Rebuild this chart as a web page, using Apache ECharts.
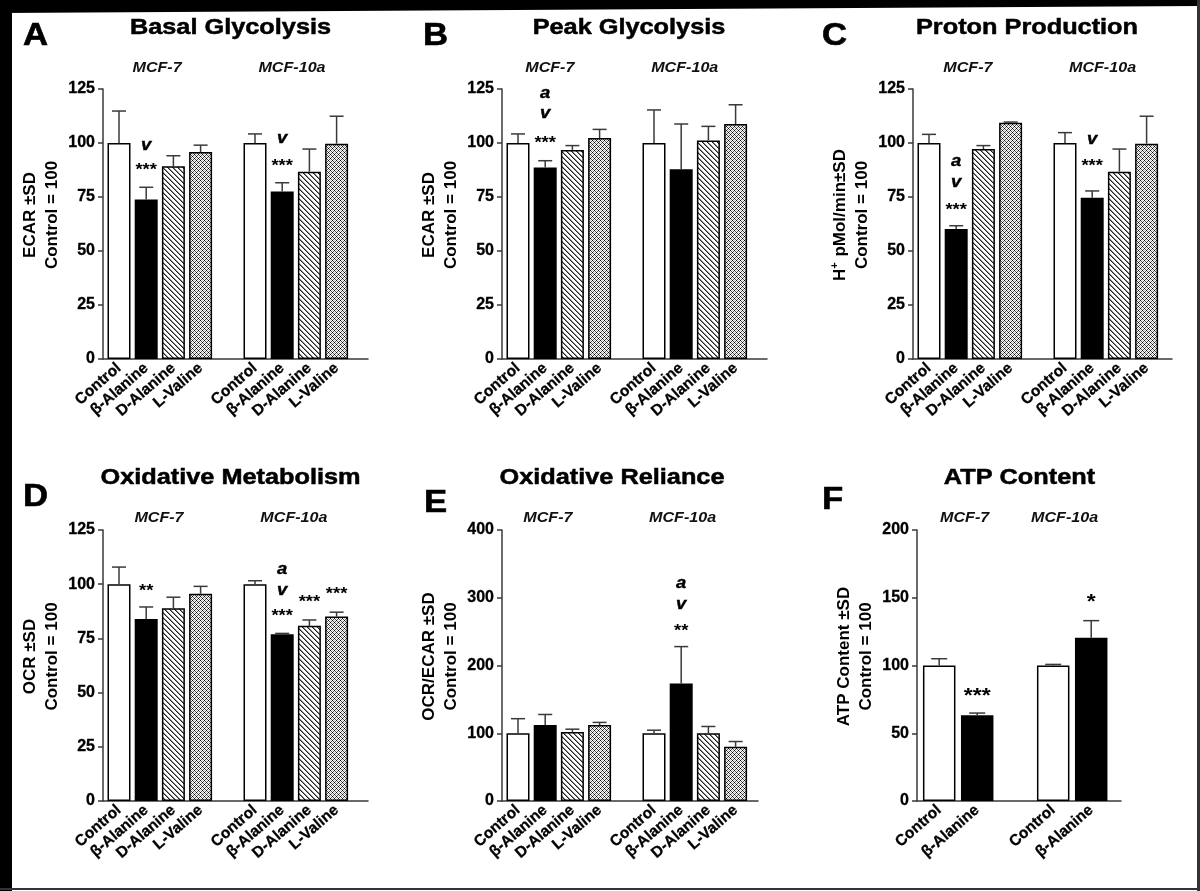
<!DOCTYPE html>
<html><head><meta charset="utf-8">
<script src="https://cdn.jsdelivr.net/npm/echarts@6/dist/echarts.min.js"></script>
<style>html,body{margin:0;padding:0;background:#fff}#chart{width:1200px;height:891px}</style>
</head><body><div id="chart"></div>
<script>
// ---------------- data ----------------
const treatments = ['Control', 'β-Alanine', 'D-Alanine', 'L-Valine'];
const atpTreatments = ['Control', 'β-Alanine'];
const cellLines = ['MCF-7', 'MCF-10a'];
const slots4 = [0, 1, 2, 3, 5, 6, 7, 8];
const slots2 = [0, 1, 3, 4];

const ticks125 = [0, 25, 50, 75, 100, 125];
const ticks400 = [0, 100, 200, 300, 400];
const ticks200 = [0, 50, 100, 150, 200];

const basalMean = [100, 73.8, 89.2, 95.8, 100, 77.6, 86.7, 99.7];
const basalSD   = [14.8, 5.7, 4.9, 3.2, 4.2, 4.0, 10.5, 12.7];
const basalMarks = [[1, 98.3, 'v'], [1, 89, '***'], [6, 101.4, 'v'], [6, 90.9, '***']];

const peakMean = [100, 88.7, 96.8, 102.3, 100, 87.8, 101.2, 108.8];
const peakSD   = [4.2, 3.1, 2.0, 4.0, 15.3, 21.0, 6.5, 8.9];
const peakMarks = [[1, 122.2, 'a'], [1, 113, 'v'], [1, 101.4, '***']];

const protonMean = [100, 60.2, 97.2, 109.4, 100, 74.7, 86.7, 99.7];
const protonSD   = [4.0, 1.5, 1.6, 0.3, 4.8, 3.1, 10.5, 12.7];
const protonMarks = [[1, 90.6, 'a'], [1, 81.3, 'v'], [1, 70.5, '***'], [6, 101.1, 'v'], [6, 90.9, '***']];

const oxMean = [100, 84.0, 88.9, 95.6, 100, 76.9, 80.8, 85.1];
const oxSD   = [7.9, 5.5, 5.1, 3.4, 1.6, 0.4, 2.7, 2.0];
const oxMarks = [[1, 98.2, '**'], [6, 106.2, 'a'], [6, 96.6, 'v'], [6, 86.6, '***'], [7, 93.2, '***'], [8, 96.6, '***']];

const relMean = [100, 112, 102, 112, 100, 173.6, 100, 80];
const relSD   = [21.5, 15.7, 4.0, 4.0, 4.5, 54.3, 10.0, 7.8];
const relMarks = [[6, 319, 'a'], [6, 288, 'v'], [6, 255, '**']];

const atpMean = [100, 63.2, 100, 120.5];
const atpSD   = [5.0, 1.7, 0.8, 12.6];
const atpMarks = [[1, 80.6, '***'], [4, 149.7, '*']];

// ---------------- panels ----------------
const panels = [
  { letter: 'A', title: 'Basal Glycolysis', yName: 'ECAR ±SD\nControl = 100', labels: treatments, slots: slots4, mean: basalMean, sd: basalSD, marks: basalMarks, ticks: ticks125 },
  { letter: 'B', title: 'Peak Glycolysis', yName: 'ECAR ±SD\nControl = 100', labels: treatments, slots: slots4, mean: peakMean, sd: peakSD, marks: peakMarks, ticks: ticks125 },
  { letter: 'C', title: 'Proton Production', yName: '{m|H}{s|+}{m| pMol/min±SD}\n{m|Control = 100}', rich: true, labels: treatments, slots: slots4, mean: protonMean, sd: protonSD, marks: protonMarks, ticks: ticks125 },
  { letter: 'D', title: 'Oxidative Metabolism', yName: 'OCR ±SD\nControl = 100', labels: treatments, slots: slots4, mean: oxMean, sd: oxSD, marks: oxMarks, ticks: ticks125 },
  { letter: 'E', title: 'Oxidative Reliance', yName: 'OCR/ECAR ±SD\nControl = 100', labels: treatments, slots: slots4, mean: relMean, sd: relSD, marks: relMarks, ticks: ticks400 },
  { letter: 'F', title: 'ATP Content', yName: 'ATP Content ±SD\nControl = 100', labels: atpTreatments, slots: slots2, mean: atpMean, sd: atpSD, marks: atpMarks, ticks: ticks200 }
];

// ---------------- layout (positions / sizes) ----------------
const layout = [
  { x0: 103, yTop: 89,  yBot: 359, x1: 368,  unit: 27.2, off: 16,   barW: 23,   cap: 14, markSize: 16, letterXY: [23, 36],  titleXY: [230.5, 28],  groupX: [1.4, 6.36],  groupDy: 21 },
  { x0: 502, yTop: 89,  yBot: 359, x1: 767,  unit: 27.2, off: 16,   barW: 23,   cap: 14, markSize: 16, letterXY: [423, 36], titleXY: [629, 28],    groupX: [1.17, 6.13], groupDy: 21 },
  { x0: 913, yTop: 89,  yBot: 359, x1: 1172, unit: 27.2, off: 16,   barW: 23,   cap: 14, markSize: 16, letterXY: [822, 36], titleXY: [1027, 28],   groupX: [1.43, 6.38], groupDy: 21 },
  { x0: 103, yTop: 530, yBot: 801, x1: 368,  unit: 27.2, off: 16,   barW: 23,   cap: 14, markSize: 16, letterXY: [23, 497], titleXY: [230.5, 478], groupX: [1.47, 6.43], groupDy: 12 },
  { x0: 502, yTop: 530, yBot: 801, x1: 758,  unit: 27.2, off: 16,   barW: 23,   cap: 14, markSize: 16, letterXY: [424, 503], titleXY: [612, 478],  groupX: [1.1, 6.05],  groupDy: 12 },
  { x0: 917, yTop: 530, yBot: 801, x1: 1121, unit: 38,   off: 22.2, barW: 32.5, cap: 16, markSize: 20, letterXY: [822, 500], titleXY: [1019.5, 478], groupX: [0.67, 3.3], groupDy: 12 }
];

const FONT = '"Liberation Sans", Arial, Helvetica, sans-serif';
const STRETCH = 1.15;
const LINE = '#3a3a3a';

function makeTile(size, draw) {
  const c = document.createElement('canvas');
  c.width = size; c.height = size;
  const ctx = c.getContext('2d');
  ctx.fillStyle = '#fff'; ctx.fillRect(0, 0, size, size);
  draw(ctx);
  return c;
}
const hatchTile = makeTile(5, ctx => {
  for (let i = 0; i < 5; i++) {
    ctx.fillStyle = '#222'; ctx.fillRect(i, i, 1, 1);
    ctx.fillStyle = '#888'; ctx.fillRect((i + 1) % 5, i, 1, 1);
  }
});
const crossTile = makeTile(4, ctx => {
  ctx.fillStyle = '#000'; ctx.fillRect(0, 0, 1, 1); ctx.fillRect(2, 2, 1, 1);
  ctx.fillStyle = '#555';
  [[1, 1], [3, 3], [1, 3], [3, 1]].forEach(p => ctx.fillRect(p[0], p[1], 1, 1));
  ctx.fillStyle = '#c8c8c8';
  [[0, 2], [2, 0]].forEach(p => ctx.fillRect(p[0], p[1], 1, 1));
});
const fills = ['#ffffff', '#000000', { image: hatchTile, repeat: 'repeat' }, { image: crossTile, repeat: 'repeat' }];

const grids = [], xAxes = [], yAxes = [], series = [], graphics = [];

// page frame
graphics.push({ type: 'rect', shape: { x: 0, y: 0, width: 12, height: 891 }, style: { fill: '#000' }, silent: true });
graphics.push({ type: 'polygon', shape: { points: [[0, 0], [1200, 0], [1200, 6], [0, 13]] }, style: { fill: '#000' }, silent: true });
graphics.push({ type: 'rect', shape: { x: 1197, y: 0, width: 3, height: 891 }, style: { fill: '#333' }, silent: true });
graphics.push({ type: 'rect', shape: { x: 0, y: 888, width: 1200, height: 2 }, style: { fill: '#333' }, silent: true });

panels.forEach((P, i) => {
  const L = layout[i];
  const xMin = -L.off / L.unit;
  const xMax = xMin + (L.x1 - L.x0) / L.unit;
  const yMin = P.ticks[0], yMax = P.ticks[P.ticks.length - 1], yStep = P.ticks[1] - P.ticks[0];

  grids.push({ left: L.x0, top: L.yTop, width: L.x1 - L.x0, height: L.yBot - L.yTop, containLabel: false });
  xAxes.push({
    type: 'value', gridIndex: i, min: xMin, max: xMax,
    axisLine: { show: true, onZero: false, lineStyle: { color: LINE, width: 1.5 } },
    axisTick: { show: false }, splitLine: { show: false },
    axisLabel: {
      customValues: P.slots,
      formatter: v => P.labels[P.slots.indexOf(v) % P.labels.length],
      rotate: 41, margin: 7, fontSize: 15.5, fontWeight: 'bold', color: '#000', fontFamily: FONT,
      textBorderColor: '#000', textBorderWidth: 0.3
    }
  });
  yAxes.push({
    type: 'value', gridIndex: i, min: yMin, max: yMax, interval: yStep,
    axisLine: { show: true, onZero: false, lineStyle: { color: LINE, width: 1.5 } },
    axisTick: { show: true, length: 5, lineStyle: { color: LINE, width: 1.5 } },
    splitLine: { show: false },
    axisLabel: { margin: 8, fontSize: 16, fontWeight: 'bold', color: '#000', fontFamily: FONT,
                 textBorderColor: '#000', textBorderWidth: 0.3 }
  });

  series.push({
    type: 'bar', xAxisIndex: i, yAxisIndex: i, barWidth: L.barW, silent: true,
    data: P.slots.map((s, k) => ({
      value: [s, P.mean[k]],
      itemStyle: { color: fills[k % P.labels.length], borderColor: '#000', borderWidth: 1.5 }
    }))
  });

  series.push({
    type: 'custom', xAxisIndex: i, yAxisIndex: i, silent: true, z: 3,
    data: P.slots.map((s, k) => [s, P.mean[k], P.sd[k]]),
    renderItem: (params, api) => {
      const x = api.value(0), m = api.value(1), sd = api.value(2);
      const p0 = api.coord([x, m]), p1 = api.coord([x, m + sd]);
      const st = { stroke: LINE, lineWidth: 1.5 };
      return { type: 'group', children: [
        { type: 'line', shape: { x1: p0[0], y1: p0[1], x2: p1[0], y2: p1[1] }, style: st },
        { type: 'line', shape: { x1: p1[0] - L.cap / 2, y1: p1[1], x2: p1[0] + L.cap / 2, y2: p1[1] }, style: st }
      ] };
    }
  });

  series.push({
    type: 'custom', xAxisIndex: i, yAxisIndex: i, silent: true, z: 4,
    data: P.marks.map(m => [m[0], m[1]]),
    renderItem: (params, api) => {
      const txt = P.marks[params.dataIndex][2];
      const p = api.coord([api.value(0), api.value(1)]);
      const star = txt.indexOf('*') >= 0;
      const fs = L.markSize;
      return {
        type: 'text', x: p[0], y: p[1] + (star ? 0.22 * fs : -0.08 * fs), scaleX: STRETCH,
        style: { text: txt, align: 'center', verticalAlign: 'middle', fontSize: fs, fontWeight: 'bold',
                 fontStyle: star ? 'normal' : 'italic', fontFamily: FONT, fill: '#000',
                 stroke: '#000', lineWidth: star ? 0 : 0.4 }
      };
    }
  });

  series.push({
    type: 'custom', xAxisIndex: i, yAxisIndex: i, silent: true, z: 4,
    data: cellLines.map((c, j) => [L.groupX[j], yMax]),
    renderItem: (params, api) => {
      const p = api.coord([api.value(0), api.value(1)]);
      return {
        type: 'text', x: p[0], y: p[1] - L.groupDy, scaleX: STRETCH,
        style: { text: cellLines[params.dataIndex], align: 'center', verticalAlign: 'middle', fontSize: 14,
                 fontWeight: 'bold', fontStyle: 'italic', fontFamily: FONT, fill: '#111' }
      };
    }
  });

  // title, panel letter, y-axis name
  graphics.push({ type: 'text', x: L.titleXY[0], y: L.titleXY[1], scaleX: STRETCH, silent: true,
    style: { text: P.title, align: 'center', verticalAlign: 'middle', fontSize: 22, fontWeight: 'bold', fontFamily: FONT,
             fill: '#000', stroke: '#000', lineWidth: 0.5 } });
  graphics.push({ type: 'text', x: L.letterXY[0], y: L.letterXY[1], scaleX: 1.12, silent: true,
    style: { text: P.letter, align: 'left', verticalAlign: 'middle', fontSize: 31, fontWeight: 'bold', fontFamily: FONT,
             fill: '#000', stroke: '#000', lineWidth: 0.6 } });
  const nameStyle = { text: P.yName, align: 'center', verticalAlign: 'middle', fontSize: 17, fontWeight: 'bold',
                      fontFamily: FONT, fill: '#000', lineHeight: 22 };
  if (P.rich) {
    nameStyle.rich = {
      m: { fontSize: 17, fontWeight: 'bold', fontFamily: FONT, lineHeight: 22 },
      s: { fontSize: 11, fontWeight: 'bold', fontFamily: FONT, lineHeight: 22, verticalAlign: 'top', padding: [0, 1, 9, 0] }
    };
  }
  graphics.push({ type: 'text', x: L.x0 - 62, y: (L.yTop + L.yBot) / 2 - 9, rotation: Math.PI / 2, silent: true, style: nameStyle });
});

const chart = echarts.init(document.getElementById('chart'), null, { renderer: 'canvas' });
chart.setOption({
  animation: false,
  backgroundColor: '#fff',
  grid: grids, xAxis: xAxes, yAxis: yAxes, series: series,
  graphic: { elements: graphics }
});
</script></body></html>
